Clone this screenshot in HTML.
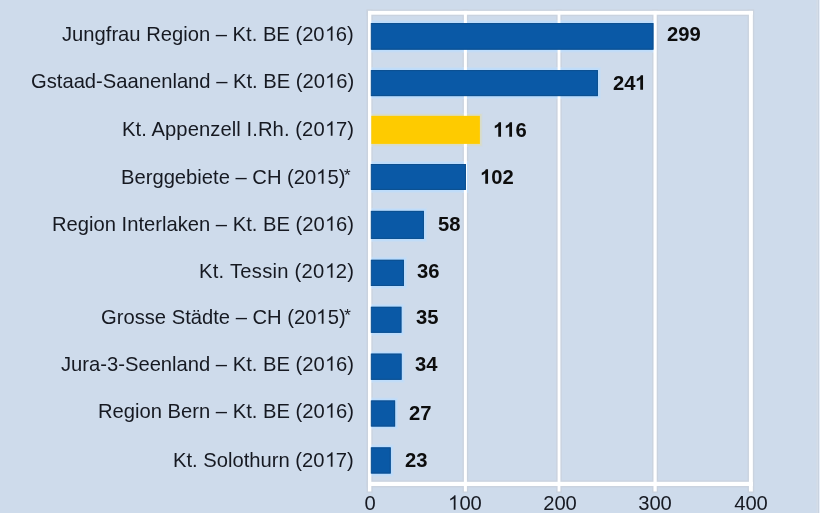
<!DOCTYPE html>
<html><head><meta charset="utf-8"><style>
html,body{margin:0;padding:0}
body{width:820px;height:513px;overflow:hidden;background:#cedbeb;position:relative;font-family:"Liberation Sans",sans-serif;color:#161921}
.ln{position:absolute;background:#fff}
.bar{position:absolute}
.lab,.val,.tick{position:absolute;will-change:transform;height:0;line-height:0;font-size:20.2px;white-space:nowrap}
.lab{right:466px;text-align:right}
.val{font-weight:bold;color:#0d0d0d}
.tick{width:100px;text-align:center}
.ast{display:inline-block;position:relative;width:0.389em;height:0;font-style:normal}
.ast i{position:absolute;left:-1.5px;top:-8px;font-size:17px;line-height:0;font-style:normal}
.o1{display:inline-block;position:relative;width:0.5562em;height:0;font-style:normal}
.o1 svg{position:absolute;left:0;bottom:0;width:100%;height:0.7275em;fill:currentColor;overflow:visible}
.e{position:absolute;top:0;width:1px;height:513px}
</style></head><body>
<svg width="820" height="513" style="position:absolute;left:0;top:0"><rect x="366.60" y="9.5" width="6.10" height="483.20" fill="#cad3df"/><rect x="462.50" y="9.5" width="5.80" height="483.20" fill="#cad3df"/><rect x="556.20" y="9.5" width="5.60" height="483.20" fill="#cad3df"/><rect x="652.10" y="9.5" width="6.00" height="483.20" fill="#cad3df"/><rect x="747.55" y="9.5" width="6.70" height="483.20" fill="#cad3df"/><rect x="366.6" y="9.5" width="387.3" height="6.6" fill="#cad3df"/><rect x="366.6" y="480.4" width="387.3" height="7" fill="#cad3df"/><rect x="371.3" y="20.07" width="285.10" height="32.58" fill="#c8dcf2"/><rect x="371.3" y="21.27" width="283.90" height="30.18" fill="#bddcfb"/><rect x="371.3" y="67.10" width="229.60" height="32.00" fill="#c8dcf2"/><rect x="371.3" y="68.30" width="228.40" height="29.60" fill="#bddcfb"/><rect x="371.3" y="112.85" width="111.60" height="34.05" fill="#cfdae6"/><rect x="371.3" y="114.05" width="110.40" height="31.65" fill="#d9dcc6"/><rect x="371.3" y="161.00" width="97.60" height="31.90" fill="#c8dcf2"/><rect x="371.3" y="162.20" width="96.40" height="29.50" fill="#bddcfb"/><rect x="371.3" y="207.90" width="55.60" height="34.00" fill="#c8dcf2"/><rect x="371.3" y="209.10" width="54.40" height="31.60" fill="#bddcfb"/><rect x="371.3" y="256.80" width="35.60" height="32.20" fill="#c8dcf2"/><rect x="371.3" y="258.00" width="34.40" height="29.80" fill="#bddcfb"/><rect x="371.3" y="303.80" width="33.10" height="32.00" fill="#c8dcf2"/><rect x="371.3" y="305.00" width="31.90" height="29.60" fill="#bddcfb"/><rect x="371.3" y="350.65" width="33.25" height="32.15" fill="#c8dcf2"/><rect x="371.3" y="351.85" width="32.05" height="29.75" fill="#bddcfb"/><rect x="371.3" y="397.50" width="26.80" height="32.00" fill="#c8dcf2"/><rect x="371.3" y="398.70" width="25.60" height="29.60" fill="#bddcfb"/><rect x="371.3" y="444.40" width="22.40" height="32.10" fill="#c8dcf2"/><rect x="371.3" y="445.60" width="21.20" height="29.70" fill="#bddcfb"/><rect x="368.00" y="10.9" width="3.30" height="480.60" fill="#fff"/><rect x="463.90" y="10.9" width="3.00" height="480.60" fill="#fff"/><rect x="557.60" y="10.9" width="2.80" height="480.60" fill="#fff"/><rect x="653.50" y="10.9" width="3.20" height="480.60" fill="#fff"/><rect x="748.95" y="10.9" width="3.90" height="480.60" fill="#fff"/><rect x="368" y="10.9" width="384.9" height="3.8" fill="#fff"/><rect x="368" y="481.8" width="384.9" height="4.2" fill="#fff"/><rect x="371.3" y="23.07" width="282.10" height="26.58" fill="#0a59a6"/><rect x="371.3" y="23.57" width="281.60" height="25.58" fill="none" stroke="#0c4f90" stroke-width="1"/><rect x="371.3" y="70.10" width="226.60" height="26.00" fill="#0a59a6"/><rect x="371.3" y="70.60" width="226.10" height="25.00" fill="none" stroke="#0c4f90" stroke-width="1"/><rect x="371.3" y="115.85" width="108.60" height="28.05" fill="#fecb00"/><rect x="371.3" y="164.00" width="94.60" height="25.90" fill="#0a59a6"/><rect x="371.3" y="164.50" width="94.10" height="24.90" fill="none" stroke="#0c4f90" stroke-width="1"/><rect x="371.3" y="210.90" width="52.60" height="28.00" fill="#0a59a6"/><rect x="371.3" y="211.40" width="52.10" height="27.00" fill="none" stroke="#0c4f90" stroke-width="1"/><rect x="371.3" y="259.80" width="32.60" height="26.20" fill="#0a59a6"/><rect x="371.3" y="260.30" width="32.10" height="25.20" fill="none" stroke="#0c4f90" stroke-width="1"/><rect x="371.3" y="306.80" width="30.10" height="26.00" fill="#0a59a6"/><rect x="371.3" y="307.30" width="29.60" height="25.00" fill="none" stroke="#0c4f90" stroke-width="1"/><rect x="371.3" y="353.65" width="30.25" height="26.15" fill="#0a59a6"/><rect x="371.3" y="354.15" width="29.75" height="25.15" fill="none" stroke="#0c4f90" stroke-width="1"/><rect x="371.3" y="400.50" width="23.80" height="26.00" fill="#0a59a6"/><rect x="371.3" y="401.00" width="23.30" height="25.00" fill="none" stroke="#0c4f90" stroke-width="1"/><rect x="371.3" y="447.40" width="19.40" height="26.10" fill="#0a59a6"/><rect x="371.3" y="447.90" width="18.90" height="25.10" fill="none" stroke="#0c4f90" stroke-width="1"/></svg>
<div class="lab" style="top:33.65px;right:466.00px">Jungfrau Region – Kt. BE (20<i class="o1"><svg viewBox="0 -1490 1139 1490"><path transform="scale(1,-1)" d="M763 0H583V1147Q518 1085 412 1023T223 930V1104Q375 1175 489 1276T650 1472H763Z"/></svg></i>6)</div><div class="val" style="left:667.20px;top:33.50px">299</div><div class="lab" style="top:80.55px;right:466.00px">Gstaad-Saanenland – Kt. BE (20<i class="o1"><svg viewBox="0 -1490 1139 1490"><path transform="scale(1,-1)" d="M763 0H583V1147Q518 1085 412 1023T223 930V1104Q375 1175 489 1276T650 1472H763Z"/></svg></i>6)</div><div class="val" style="left:612.50px;top:83.25px">24<i class="o1"><svg viewBox="0 -1490 1139 1490"><path transform="scale(1,-1)" d="M815 0H534V1059Q380 915 180 847V1102Q289 1138 417 1238T594 1466H815Z"/></svg></i></div><div class="lab" style="top:129.15px;right:466.00px;letter-spacing:0.08px">Kt. Appenzell I.Rh. (20<i class="o1"><svg viewBox="0 -1490 1139 1490"><path transform="scale(1,-1)" d="M763 0H583V1147Q518 1085 412 1023T223 930V1104Q375 1175 489 1276T650 1472H763Z"/></svg></i>7)</div><div class="val" style="left:492.80px;top:129.55px"><i class="o1"><svg viewBox="0 -1490 1139 1490"><path transform="scale(1,-1)" d="M815 0H534V1059Q380 915 180 847V1102Q289 1138 417 1238T594 1466H815Z"/></svg></i><i class="o1"><svg viewBox="0 -1490 1139 1490"><path transform="scale(1,-1)" d="M815 0H534V1059Q380 915 180 847V1102Q289 1138 417 1238T594 1466H815Z"/></svg></i>6</div><div class="lab" style="top:176.75px;right:466.80px">Berggebiete – CH (20<i class="o1"><svg viewBox="0 -1490 1139 1490"><path transform="scale(1,-1)" d="M763 0H583V1147Q518 1085 412 1023T223 930V1104Q375 1175 489 1276T650 1472H763Z"/></svg></i>5)<i class="ast"><i>*</i></i></div><div class="val" style="left:479.60px;top:176.65px"><i class="o1"><svg viewBox="0 -1490 1139 1490"><path transform="scale(1,-1)" d="M815 0H534V1059Q380 915 180 847V1102Q289 1138 417 1238T594 1466H815Z"/></svg></i>02</div><div class="lab" style="top:223.60px;right:466.00px">Region Interlaken – Kt. BE (20<i class="o1"><svg viewBox="0 -1490 1139 1490"><path transform="scale(1,-1)" d="M763 0H583V1147Q518 1085 412 1023T223 930V1104Q375 1175 489 1276T650 1472H763Z"/></svg></i>6)</div><div class="val" style="left:437.60px;top:223.75px">58</div><div class="lab" style="top:270.75px;right:466.00px;letter-spacing:0.26px">Kt. Tessin (20<i class="o1"><svg viewBox="0 -1490 1139 1490"><path transform="scale(1,-1)" d="M763 0H583V1147Q518 1085 412 1023T223 930V1104Q375 1175 489 1276T650 1472H763Z"/></svg></i>2)</div><div class="val" style="left:417.30px;top:270.85px">36</div><div class="lab" style="top:317.35px;right:466.80px">Grosse Städte – CH (20<i class="o1"><svg viewBox="0 -1490 1139 1490"><path transform="scale(1,-1)" d="M763 0H583V1147Q518 1085 412 1023T223 930V1104Q375 1175 489 1276T650 1472H763Z"/></svg></i>5)<i class="ast"><i>*</i></i></div><div class="val" style="left:416.10px;top:317.15px">35</div><div class="lab" style="top:364.15px;right:466.00px">Jura-3-Seenland – Kt. BE (20<i class="o1"><svg viewBox="0 -1490 1139 1490"><path transform="scale(1,-1)" d="M763 0H583V1147Q518 1085 412 1023T223 930V1104Q375 1175 489 1276T650 1472H763Z"/></svg></i>6)</div><div class="val" style="left:415.35px;top:364.15px">34</div><div class="lab" style="top:411.15px;right:466.00px">Region Bern – Kt. BE (20<i class="o1"><svg viewBox="0 -1490 1139 1490"><path transform="scale(1,-1)" d="M763 0H583V1147Q518 1085 412 1023T223 930V1104Q375 1175 489 1276T650 1472H763Z"/></svg></i>6)</div><div class="val" style="left:408.55px;top:412.95px">27</div><div class="lab" style="top:460.15px;right:466.00px">Kt. Solothurn (20<i class="o1"><svg viewBox="0 -1490 1139 1490"><path transform="scale(1,-1)" d="M763 0H583V1147Q518 1085 412 1023T223 930V1104Q375 1175 489 1276T650 1472H763Z"/></svg></i>7)</div><div class="val" style="left:405.10px;top:459.65px">23</div><div class="tick" style="left:319.50px;top:502.55px">0</div><div class="tick" style="left:414.75px;top:502.55px"><i class="o1"><svg viewBox="0 -1490 1139 1490"><path transform="scale(1,-1)" d="M763 0H583V1147Q518 1085 412 1023T223 930V1104Q375 1175 489 1276T650 1472H763Z"/></svg></i>00</div><div class="tick" style="left:510.00px;top:502.55px">200</div><div class="tick" style="left:605.25px;top:502.55px">300</div><div class="tick" style="left:700.50px;top:502.55px">400</div>
<div class="e" style="left:816px;background:#d1dbe8"></div><div class="e" style="left:817px;background:#d4dde8"></div><div class="e" style="left:818px;background:#c9d3e0"></div><div class="e" style="left:819px;background:#e8effa"></div>
</body></html>
